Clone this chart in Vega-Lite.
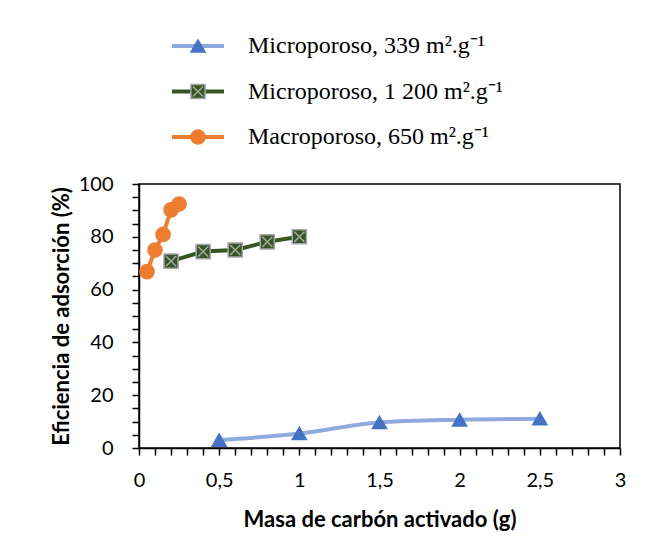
{
  "$schema": "https://vega.github.io/schema/vega-lite/v6.json",
  "width": 481,
  "height": 264,
  "autosize": {"type": "none"},
  "padding": {"left": 139, "top": 184, "right": 35, "bottom": 109},
  "background": "white",
  "config": {
    "view": {"stroke": "#000", "strokeWidth": 1.5},
    "axis": {
      "labelFont": "Lato", "titleFont": "Lato",
      "labelColor": "#000", "titleColor": "#000",
      "domainColor": "#000", "tickColor": "#000",
      "grid": false, "domainWidth": 1.5, "tickWidth": 1.5,
      "labelOverlap": false
    }
  },
  "data": {
    "values": [
      {"serie": "Microporoso, 339 m².g⁻¹", "masa": 0.5, "eficiencia": 3.0},
      {"serie": "Microporoso, 339 m².g⁻¹", "masa": 1.0, "eficiencia": 5.5},
      {"serie": "Microporoso, 339 m².g⁻¹", "masa": 1.5, "eficiencia": 9.7},
      {"serie": "Microporoso, 339 m².g⁻¹", "masa": 2.0, "eficiencia": 10.7},
      {"serie": "Microporoso, 339 m².g⁻¹", "masa": 2.5, "eficiencia": 11.1},
      {"serie": "Microporoso, 1 200 m².g⁻¹", "masa": 0.2, "eficiencia": 70.8},
      {"serie": "Microporoso, 1 200 m².g⁻¹", "masa": 0.4, "eficiencia": 74.4},
      {"serie": "Microporoso, 1 200 m².g⁻¹", "masa": 0.6, "eficiencia": 75.0},
      {"serie": "Microporoso, 1 200 m².g⁻¹", "masa": 0.8, "eficiencia": 78.1},
      {"serie": "Microporoso, 1 200 m².g⁻¹", "masa": 1.0, "eficiencia": 80.0},
      {"serie": "Macroporoso, 650 m².g⁻¹", "masa": 0.05, "eficiencia": 66.8},
      {"serie": "Macroporoso, 650 m².g⁻¹", "masa": 0.1, "eficiencia": 75.0},
      {"serie": "Macroporoso, 650 m².g⁻¹", "masa": 0.15, "eficiencia": 80.9},
      {"serie": "Macroporoso, 650 m².g⁻¹", "masa": 0.2, "eficiencia": 90.2},
      {"serie": "Macroporoso, 650 m².g⁻¹", "masa": 0.25, "eficiencia": 92.4}
    ]
  },
  "layer": [
    {
      "transform": [{"filter": "datum.serie === 'Microporoso, 339 m².g⁻¹'"}],
      "mark": {"type": "line", "interpolate": "monotone", "strokeWidth": 4},
      "encoding": {
        "x": {
          "field": "masa", "type": "quantitative",
          "scale": {"domain": [0, 3], "nice": false},
          "axis": {
            "orient": "bottom",
            "values": [0, 0.1, 0.2, 0.3, 0.4, 0.5, 0.6, 0.7, 0.8, 0.9, 1, 1.1, 1.2, 1.3, 1.4, 1.5, 1.6, 1.7, 1.8, 1.9, 2, 2.1, 2.2, 2.3, 2.4, 2.5, 2.6, 2.7, 2.8, 2.9, 3],
            "format": "~g",
            "labelExpr": "abs(datum.value * 2 - round(datum.value * 2)) < 0.001 ? replace(datum.label, '.', ',') : ''",
            "labelOverlap": false,
            "title": "Masa de carbón activado (g)",
            "tickSize": 7,
            "encode": {"ticks": {"update": {"y2": {"signal": "abs(datum.value * 2 - round(datum.value * 2)) < 0.001 ? 7 : 4"}}}},
            "labelFontSize": 20, "labelPadding": 15,
            "titleFontSize": 22, "titleFontWeight": "bold", "titlePadding": 19,
            "labelFlush": false
          }
        },
        "y": {
          "field": "eficiencia", "type": "quantitative",
          "scale": {"domain": [0, 100], "nice": false},
          "axis": {
            "orient": "left",
            "values": [0, 5, 10, 15, 20, 25, 30, 35, 40, 45, 50, 55, 60, 65, 70, 75, 80, 85, 90, 95, 100],
            "labelExpr": "datum.value % 20 === 0 ? datum.label : ''",
            "labelOverlap": false,
            "title": "Eficiencia de adsorción (%)",
            "tickSize": 7,
            "encode": {"ticks": {"update": {"x2": {"signal": "datum.value % 20 === 0 ? -7 : -4"}}}},
            "labelFontSize": 20, "labelPadding": 19,
            "titleFontSize": 22, "titleFontWeight": "bold", "titlePadding": 5
          }
        },
        "color": {
          "field": "serie", "type": "nominal",
          "scale": {
            "domain": ["Microporoso, 339 m².g⁻¹", "Microporoso, 1 200 m².g⁻¹", "Macroporoso, 650 m².g⁻¹"],
            "range": ["#8faadc", "#375623", "#ed7d31"]
          },
          "legend": {
            "orient": "none", "legendX": 31, "legendY": -153, "title": null, "padding": 0,
            "symbolType": "stroke", "symbolSize": 2704, "symbolStrokeWidth": 4,
            "clipHeight": 30, "rowPadding": 15.5,
            "labelFont": "Liberation Serif", "labelFontSize": 24, "labelColor": "#000",
            "labelOffset": 22, "labelLimit": 500
          }
        }
      }
    },
    {
      "transform": [{"filter": "datum.serie !== 'Microporoso, 339 m².g⁻¹'"}],
      "mark": {"type": "line", "strokeWidth": 4},
      "encoding": {
        "x": {
          "field": "masa", "type": "quantitative",
          "scale": {"domain": [0, 3], "nice": false},
          "axis": {
            "orient": "bottom",
            "values": [0, 0.1, 0.2, 0.3, 0.4, 0.5, 0.6, 0.7, 0.8, 0.9, 1, 1.1, 1.2, 1.3, 1.4, 1.5, 1.6, 1.7, 1.8, 1.9, 2, 2.1, 2.2, 2.3, 2.4, 2.5, 2.6, 2.7, 2.8, 2.9, 3],
            "format": "~g",
            "labelExpr": "abs(datum.value * 2 - round(datum.value * 2)) < 0.001 ? replace(datum.label, '.', ',') : ''",
            "labelOverlap": false,
            "title": "Masa de carbón activado (g)",
            "tickSize": 7,
            "encode": {"ticks": {"update": {"y2": {"signal": "abs(datum.value * 2 - round(datum.value * 2)) < 0.001 ? 7 : 4"}}}},
            "labelFontSize": 20, "labelPadding": 15,
            "titleFontSize": 22, "titleFontWeight": "bold", "titlePadding": 19,
            "labelFlush": false
          }
        },
        "y": {
          "field": "eficiencia", "type": "quantitative",
          "scale": {"domain": [0, 100], "nice": false},
          "axis": {
            "orient": "left",
            "values": [0, 5, 10, 15, 20, 25, 30, 35, 40, 45, 50, 55, 60, 65, 70, 75, 80, 85, 90, 95, 100],
            "labelExpr": "datum.value % 20 === 0 ? datum.label : ''",
            "labelOverlap": false,
            "title": "Eficiencia de adsorción (%)",
            "tickSize": 7,
            "encode": {"ticks": {"update": {"x2": {"signal": "datum.value % 20 === 0 ? -7 : -4"}}}},
            "labelFontSize": 20, "labelPadding": 19,
            "titleFontSize": 22, "titleFontWeight": "bold", "titlePadding": 5
          }
        },
        "color": {
          "field": "serie", "type": "nominal",
          "scale": {
            "domain": ["Microporoso, 339 m².g⁻¹", "Microporoso, 1 200 m².g⁻¹", "Macroporoso, 650 m².g⁻¹"],
            "range": ["#8faadc", "#375623", "#ed7d31"]
          },
          "legend": {
            "orient": "none", "legendX": 31, "legendY": -153, "title": null, "padding": 0,
            "symbolType": "stroke", "symbolSize": 2704, "symbolStrokeWidth": 4,
            "clipHeight": 30, "rowPadding": 15.5,
            "labelFont": "Liberation Serif", "labelFontSize": 24, "labelColor": "#000",
            "labelOffset": 22, "labelLimit": 500
          }
        }
      }
    },
    {
      "mark": {"type": "point", "filled": true, "size": 200, "strokeWidth": 1.5, "opacity": 1},
      "encoding": {
        "x": {
          "field": "masa", "type": "quantitative",
          "scale": {"domain": [0, 3], "nice": false},
          "axis": {
            "orient": "bottom",
            "values": [0, 0.1, 0.2, 0.3, 0.4, 0.5, 0.6, 0.7, 0.8, 0.9, 1, 1.1, 1.2, 1.3, 1.4, 1.5, 1.6, 1.7, 1.8, 1.9, 2, 2.1, 2.2, 2.3, 2.4, 2.5, 2.6, 2.7, 2.8, 2.9, 3],
            "format": "~g",
            "labelExpr": "abs(datum.value * 2 - round(datum.value * 2)) < 0.001 ? replace(datum.label, '.', ',') : ''",
            "labelOverlap": false,
            "title": "Masa de carbón activado (g)",
            "tickSize": 7,
            "encode": {"ticks": {"update": {"y2": {"signal": "abs(datum.value * 2 - round(datum.value * 2)) < 0.001 ? 7 : 4"}}}},
            "labelFontSize": 20, "labelPadding": 15,
            "titleFontSize": 22, "titleFontWeight": "bold", "titlePadding": 19,
            "labelFlush": false
          }
        },
        "y": {
          "field": "eficiencia", "type": "quantitative",
          "scale": {"domain": [0, 100], "nice": false},
          "axis": {
            "orient": "left",
            "values": [0, 5, 10, 15, 20, 25, 30, 35, 40, 45, 50, 55, 60, 65, 70, 75, 80, 85, 90, 95, 100],
            "labelExpr": "datum.value % 20 === 0 ? datum.label : ''",
            "labelOverlap": false,
            "title": "Eficiencia de adsorción (%)",
            "tickSize": 7,
            "encode": {"ticks": {"update": {"x2": {"signal": "datum.value % 20 === 0 ? -7 : -4"}}}},
            "labelFontSize": 20, "labelPadding": 19,
            "titleFontSize": 22, "titleFontWeight": "bold", "titlePadding": 5
          }
        },
        "shape": {
          "field": "serie", "type": "nominal", "sort": "descending",
          "scale": {"range": ["triangle-up", "M-1,-1L1,-1L1,1L-1,1Z M-0.72,-0.72L0.72,0.72 M0.72,-0.72L-0.72,0.72", "circle"]},
          "legend": {
            "orient": "none", "legendX": 51, "legendY": -153, "title": null, "padding": 0,
            "labelExpr": "''", "clipHeight": 30, "rowPadding": 15.5,
            "symbolSize": 200, "symbolStrokeWidth": 1.5
          }
        },
        "fill": {
          "field": "serie", "type": "nominal", "sort": "descending",
          "scale": {"range": ["#4472c4", "#375623", "#ed7d31"]},
          "legend": {
            "orient": "none", "legendX": 51, "legendY": -153, "title": null, "padding": 0,
            "labelExpr": "''", "clipHeight": 30, "rowPadding": 15.5,
            "symbolSize": 200, "symbolStrokeWidth": 1.5
          }
        },
        "stroke": {
          "field": "serie", "type": "nominal", "sort": "descending",
          "scale": {"range": ["#4472c4", "#a6a6a6", "#ed7d31"]},
          "legend": {
            "orient": "none", "legendX": 51, "legendY": -153, "title": null, "padding": 0,
            "labelExpr": "''", "clipHeight": 30, "rowPadding": 15.5,
            "symbolSize": 200, "symbolStrokeWidth": 1.5
          }
        }
      }
    }
  ]
}
